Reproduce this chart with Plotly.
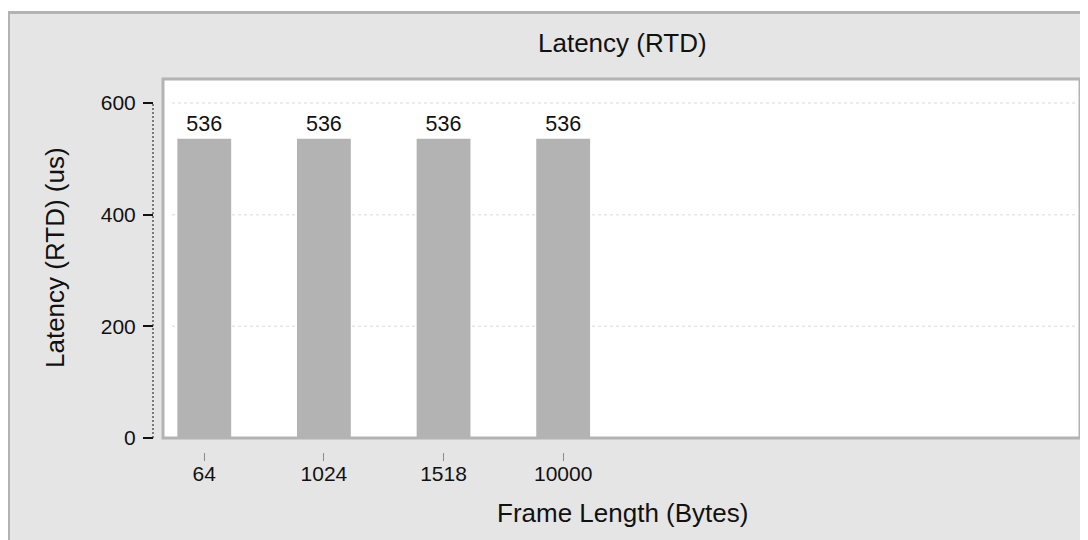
import plotly.graph_objects as go

# ---- data ----
frame_lengths = ["64", "1024", "1518", "10000"]
latency_us = [536, 536, 536, 536]
y_ticks = [0, 200, 400, 600]
grid_lines = [200, 400, 600]

# ---- layout geometry ----
# measurements below are in screenshot pixels; the page body adds an 8px offset
OFF = 8
W, H = 1088, 540
L = 153 - OFF              # y axis position
PLOT_R = 1080 - OFF
T = 79 - OFF
PAPER_B = 452 - OFF        # x axis position
R, B = W - PLOT_R, H - PAPER_B
PW, PH = W - L - R, H - T - B


def px2x(px):
    return (px - OFF - L) / PW


def py2y(py):
    return (PAPER_B - (py - OFF)) / PH


FONT = "Liberation Sans, Arial, Helvetica, sans-serif"
BORDER = "#b3b3b3"
TXT = "#111111"

fig = go.Figure()
fig.add_trace(go.Bar(
    x=frame_lengths,
    y=latency_us,
    width=0.45,
    marker=dict(color="#b3b3b3", line=dict(width=0)),
    text=[str(v) for v in latency_us],
    textposition="outside",
    textfont=dict(size=21.5, color=TXT, family=FONT),
    cliponaxis=False,
    hoverinfo="x+y",
))

shapes = []
# white strip above the gray frame, and frame border
shapes.append(dict(type="rect", xref="paper", yref="paper",
                   x0=px2x(0), x1=px2x(W + 20), y0=py2y(11), y1=py2y(0),
                   fillcolor="white", line=dict(width=0), layer="below"))
shapes.append(dict(type="line", xref="paper", yref="paper",
                   x0=px2x(7), x1=px2x(W + 20), y0=py2y(12.5), y1=py2y(12.5),
                   line=dict(color=BORDER, width=3), layer="below"))
shapes.append(dict(type="line", xref="paper", yref="paper",
                   x0=px2x(8.5), x1=px2x(8.5), y0=py2y(11), y1=py2y(H + 20),
                   line=dict(color=BORDER, width=3), layer="below"))
# grid lines
for g in grid_lines:
    shapes.append(dict(type="line", xref="paper", yref="y",
                       x0=px2x(172), x1=px2x(1075), y0=g, y1=g,
                       line=dict(color="#e6e6e6", width=1.5, dash="3px,3px"),
                       layer="below"))
# plot-area border
shapes.append(dict(type="rect", xref="x domain", yref="y domain",
                   x0=0, x1=1, y0=0, y1=1,
                   line=dict(color=BORDER, width=3), layer="above"))
# dotted y axis line over tick range
shapes.append(dict(type="line", xref="paper", yref="y",
                   x0=0, x1=0, y0=y_ticks[0], y1=y_ticks[-1],
                   line=dict(color="#333", width=1.2, dash="2px,2px")))

annotations = [
    dict(text="Latency (RTD)", xref="paper", yref="paper",
         x=px2x(622.5), y=py2y(43), xanchor="center", yanchor="middle",
         showarrow=False, font=dict(size=26, color=TXT, family=FONT)),
    dict(text="Frame Length (Bytes)", xref="paper", yref="paper",
         x=px2x(622.5), y=py2y(513), xanchor="center", yanchor="middle",
         showarrow=False, font=dict(size=26, color=TXT, family=FONT)),
    dict(text="Latency (RTD) (us)", xref="paper", yref="paper",
         x=px2x(55), y=py2y(258), xanchor="center", yanchor="middle",
         textangle=-90,
         showarrow=False, font=dict(size=26, color=TXT, family=FONT)),
]

fig.update_layout(
    width=W, height=H,
    margin=dict(l=L, r=R, t=T, b=B, pad=0),
    paper_bgcolor="#e5e5e5",
    plot_bgcolor="white",
    showlegend=False,
    font=dict(family=FONT, size=21, color=TXT),
    xaxis=dict(
        type="category",
        domain=[px2x(163), 1],
        anchor="free", position=0,
        range=[-0.345, 7.32],
        showgrid=False, zeroline=False, showline=False,
        ticks="outside", ticklen=8, tickwidth=1, tickcolor="#8a8a8a",
        ticklabelstandoff=-5,
        tickfont=dict(size=21, color=TXT, family=FONT),
        fixedrange=True,
    ),
    yaxis=dict(
        domain=[py2y(438), 1],
        anchor="free", position=0,
        range=[0, 643],
        tickvals=y_ticks,
        showgrid=False, zeroline=False, showline=False,
        ticks="outside", ticklen=10, tickwidth=2, tickcolor=TXT,
        ticklabelstandoff=3,
        tickfont=dict(size=21, color=TXT, family=FONT),
        fixedrange=True,
    ),
    shapes=shapes,
    annotations=annotations,
)

fig.write_html("out.html")
